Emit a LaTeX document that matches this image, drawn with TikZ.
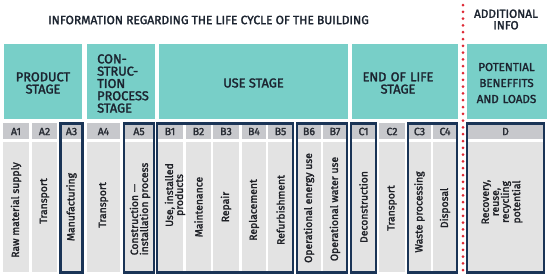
\documentclass[tikz,border=0pt]{standalone}
\usepackage{fontspec}
\setmainfont{Fira Sans}[BoldFont={Fira Sans}, BoldFeatures={FakeBold=2}]
\begin{document}
\begin{tikzpicture}[x=1pt,y=-1pt,
  teal/.style={fill=tealc},
  codefill/.style={fill=codec},
  bodyfill/.style={fill=bodyc},
  codetext/.style={font=\fontsize{10.5}{10}\selectfont\bfseries, text=codetc, inner sep=0pt},
  bodytext/.style={font=\fontsize{10.4}{10}\selectfont\bfseries, text=bodytc, rotate=90, inner sep=0pt, align=center},
  headtext/.style={font=\fontsize{12.8}{12.3}\selectfont\bfseries, text=headc, inner sep=0pt, align=center},
  groupbox/.style={draw=navyc, line width=2.6pt},
]
\definecolor{tealc}{RGB}{120,207,200}
\definecolor{codec}{RGB}{199,200,204}
\definecolor{bodyc}{RGB}{227,227,227}
\definecolor{codetc}{RGB}{40,44,52}
\definecolor{bodytc}{RGB}{30,32,38}
\definecolor{headc}{RGB}{28,36,48}
\definecolor{navyc}{RGB}{26,52,86}
\definecolor{redc}{RGB}{222,40,52}
\useasboundingbox (0,0) rectangle (550,277);
\fill[white] (0,0) rectangle (550,277);

% title
\node[font=\fontsize{12}{12}\selectfont\bfseries, text=headc, inner sep=0pt] (title) at (208.5,20) {INFORMATION REGARDING THE LIFE CYCLE OF THE BUILDING};
\node[headtext, text width=90pt, font=\fontsize{11.8}{11.5}\selectfont\bfseries] (addinfo) at (506,19.5) {ADDITIONAL\\INFO};

% teal stage boxes
\fill[teal] (4,44) rectangle (82,119);
\fill[teal] (87,44) rectangle (155,119);
\fill[teal] (159,44) rectangle (348,119);
\fill[teal] (352,44) rectangle (458,119);
\fill[teal] (467,44) rectangle (547,119);
\node[headtext, text width=78pt] (product) at (43,83) {PRODUCT\\STAGE};
\node[headtext, text width=60pt, align=left, anchor=west] (constr) at (97,83.5) {CON-\\STRUC-\\TION\\PROCESS\\STAGE};
\node[headtext] (use) at (253.5,83) {USE STAGE};
\node[headtext, text width=106pt] (eol) at (398,83) {END OF LIFE\\STAGE};
\node[headtext, text width=80pt, font=\fontsize{11.6}{16}\selectfont\bfseries] (potential) at (506.5,83) {POTENTIAL\\BENEFFITS\\AND LOADS};

% cells
\foreach \n/\l/\r/\c in {a1/3/29/A1, a2/32/57/A2, a3/60/83/A3, a4/87/120/A4, a5/124/154/A5,
  b1/157/183/B1, b2/186/211/B2, b3/213/239/B3, b4/242/266/B4, b5/268/293/B5,
  b6/297/321/B6, b7/323/347/B7, c1/351/376/C1, c2/379/405/C2, c3/408/431/C3,
  c4/433/457/C4, d/467/544/D} {
  \fill[codefill] (\l,123) rectangle (\r,139);
  \fill[bodyfill] (\l,142) rectangle (\r,272);
  \node[codetext] (code\n) at ({(\l+\r)/2},131.5) {\c};
}

% body texts
\node[bodytext] (ta1) at (16,210) {Raw material supply};
\node[bodytext] (ta2) at (44.5,201) {Transport};
\node[bodytext] (ta3) at (71.5,207) {Manufacturing};
\node[bodytext] (ta4) at (103.5,205) {Transport};
\node[bodytext, align=left] (ta5) at (140,209) {Construction —\\installation process};
\node[bodytext] (tb1) at (175,195) {Use, installed\\products};
\node[bodytext] (tb2) at (198.5,207) {Maintenance};
\node[bodytext] (tb3) at (226,207) {Repair};
\node[bodytext] (tb4) at (254,210) {Replacement};
\node[bodytext] (tb5) at (280.5,210) {Refurbishment};
\node[bodytext] (tb6) at (309,208) {Operational energy use};
\node[bodytext] (tb7) at (335,209) {Operational water use};
\node[bodytext] (tc1) at (363.5,207) {Deconstruction};
\node[bodytext] (tc2) at (392,208) {Transport};
\node[bodytext] (tc3) at (419.5,212) {Waste processing};
\node[bodytext] (tc4) at (445,208) {Disposal};
\node[bodytext] (td) at (502,202) {Recovery,\\reuse,\\recycling\\potential};

% group outlines
\draw[groupbox] (60.5,123.5) rectangle (82.5,272.5);
\draw[groupbox] (124,123.5) rectangle (154,272.5);
\draw[groupbox] (157,123.5) rectangle (293,272.5);
\draw[groupbox] (297,123.5) rectangle (347,272.5);
\draw[groupbox] (351,123.5) rectangle (376,272.5);
\draw[groupbox] (408,123.5) rectangle (457,272.5);
\draw[groupbox] (467,123.5) rectangle (544,272.5);

% dotted separator
\coordinate (sepTop) at (463,5);
\coordinate (sepBot) at (463,276);
\draw[redc, line width=3pt, line cap=round, dash pattern=on 0pt off 6.8pt] (sepTop) -- (sepBot);
\end{tikzpicture}
\end{document}
